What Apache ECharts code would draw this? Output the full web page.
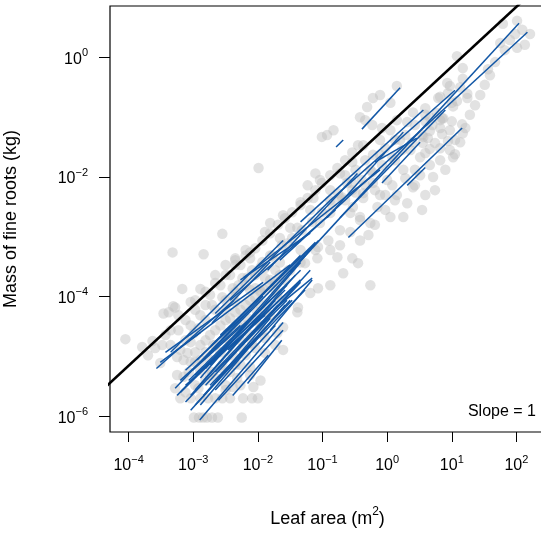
<!DOCTYPE html>
<html><head><meta charset="utf-8">
<script src="https://cdn.jsdelivr.net/npm/echarts@6/dist/echarts.min.js"></script>
<style>html,body{margin:0;padding:0;background:#fff}#c{width:541px;height:534px}</style>
</head><body><div id="c"></div>
<script>
const FONT = '"Liberation Sans", Arial, Helvetica, sans-serif';
// axis extents in log10 units
const xLogRange = [-4.288, 2.442];
const yLogRange = [-6.262, 0.858];
const xTickExponents = [-4, -3, -2, -1, 0, 1, 2];
const yTickExponents = [-6, -4, -2, 0];

// grey points: [log10 leaf area (m2), log10 mass of fine roots (kg)]
const plantPoints = [
[-4.05,-4.71],[-3.79,-4.84],[-3.63,-4.74],[-3.46,-4.28],[-3.38,-4.26],[-3.31,-4.16],[-3.32,-3.26],[-3.17,-3.87],
[-2.84,-3.29],[-2.55,-2.95],[-3.23,-4.56],[-3.04,-4.09],[-2.89,-3.87],[-3.51,-5.11],[-3.48,-4.81],[-3.35,-4.81],
[-3.25,-5.01],[-3.20,-4.89],[-3.09,-4.94],[-3.04,-4.48],[-2.99,-4.61],[-2.92,-4.53],[-3.28,-4.18],[-3.23,-4.31],
[-3.25,-5.31],[-3.15,-5.34],[-3.04,-5.09],[-2.89,-5.23],[-3.28,-5.53],[-3.20,-5.70],[-3.04,-5.70],[-2.89,-5.70],
[-2.77,-5.70],[-2.66,-5.70],[-2.55,-5.70],[-2.43,-5.70],[-2.23,-5.70],[-2.09,-5.70],[-2.00,-5.70],[-2.99,-6.02],
[-2.91,-6.02],[-2.85,-6.02],[-2.79,-6.02],[-2.71,-6.02],[-2.62,-6.02],[-2.25,-6.02],[-1.96,-5.40],[-2.12,-5.18],
[-1.89,-4.94],[-1.73,-4.81],[-1.61,-4.89],[-1.70,-4.61],[-1.39,-4.26],[-1.61,-4.51],[-2.27,-5.48],[-2.39,-5.51],
[-2.07,-5.51],[-3.12,-5.60],[-2.97,-5.48],[-2.81,-5.40],[-2.66,-5.36],[-2.50,-5.48],[-2.74,-5.06],[-2.58,-4.93],
[-2.43,-4.81],[-2.27,-4.73],[-2.12,-4.64],[-1.96,-4.48],[-1.81,-4.31],[-2.35,-5.14],[-2.19,-4.98],[-2.04,-4.86],
[-1.89,-4.69],[-2.89,-4.81],[-2.74,-4.64],[-2.58,-4.48],[-2.43,-4.36],[-2.27,-4.22],[-2.12,-4.06],[-1.96,-3.92],
[-1.81,-3.81],[-2.81,-4.39],[-2.66,-4.22],[-2.50,-4.06],[-2.35,-3.92],[-2.19,-3.81],[-2.04,-3.64],[-1.89,-3.52],
[-2.74,-3.97],[-2.58,-3.81],[-2.43,-3.64],[-2.27,-3.47],[-2.12,-3.36],[-2.66,-3.64],[-2.50,-3.47],[-2.35,-3.36],
[-2.19,-3.22],[-3.12,-4.73],[-2.97,-4.93],[-2.81,-4.14],[-2.97,-4.22],[-3.12,-4.39],[-3.35,-4.56],[-1.96,-4.14],
[-1.66,-4.06],[-1.73,-3.89],[-1.58,-3.72],[-1.50,-3.56],[-1.66,-3.43],[-1.81,-3.31],[-1.99,-1.85],[-2.12,-3.26],
[-2.19,-3.31],[-2.35,-3.39],[-1.89,-2.92],[-1.81,-2.77],[-1.66,-3.02],[-1.50,-2.85],[-1.34,-2.42],[-1.23,-2.14],
[-1.11,-1.94],[-1.19,-2.55],[-1.08,-3.36],[-0.88,-3.22],[-0.77,-3.34],[-0.54,-3.36],[-0.45,-3.44],[-0.68,-3.61],
[-0.88,-3.81],[-1.07,-3.86],[-1.19,-3.94],[-1.38,-4.18],[-0.26,-3.81],[-0.73,-2.89],[-0.57,-2.60],[-0.42,-2.72],
[-0.26,-2.77],[-0.29,-2.97],[-0.22,-2.10],[-0.37,-2.27],[-0.73,-2.35],[-0.88,-2.60],[-1.04,-2.77],[-1.34,-3.22],
[-1.55,-3.11],[-1.76,-3.34],[-1.96,-3.51],[-2.16,-3.68],[-2.30,-3.81],[-2.38,-4.01],[-2.12,-3.89],[-1.81,-3.72],
[-1.53,-3.56],[-1.27,-3.44],[-1.07,-3.17],[-1.39,-2.85],[-1.61,-2.64],[-1.14,-2.35],[-0.88,-2.22],[-0.62,-2.10],
[0.15,-0.48],[-0.11,-0.63],[-0.22,-0.68],[-0.31,-0.83],[-0.42,-1.00],[-0.34,-1.05],[-0.23,-1.13],[-0.08,-1.18],
[0.05,-0.76],[-0.93,-1.30],[-0.83,-1.22],[-1.01,-1.33],[0.82,-0.66],[1.13,-0.50],[0.93,-0.43],[1.24,-0.68],
[1.00,-0.76],[0.82,-1.05],[1.13,-1.42],[1.02,-1.67],[0.71,-2.00],[0.74,-2.22],[0.40,-2.17],[0.25,-1.88],
[0.51,-1.67],[0.56,-1.33],[0.31,-1.08],[0.15,-1.05],[0.40,-0.92],[0.66,-1.00],[-0.03,-1.52],[-0.22,-1.63],
[-0.37,-1.47],[-0.54,-1.75],[-0.26,-1.88],[0.00,-2.05],[0.15,-2.30],[0.31,-2.44],[0.05,-2.67],[0.25,-2.67],
[-0.15,-2.50],[-0.37,-2.35],[-0.54,-2.10],[-0.76,-2.27],[-0.88,-2.39],[-0.53,-2.50],[-1.04,-2.05],[-0.73,-1.94],
[-0.42,-2.67],[0.54,-2.55],[0.12,-1.72],[0.36,-1.55],[0.20,-1.38],[0.05,-1.22],[-0.11,-1.38],[0.43,-1.88],
[0.59,-2.30],[0.90,-1.88],[0.97,-1.22],
[1.79,0.56],[2.01,0.61],[2.21,0.39],[1.98,0.39],[1.75,0.24],[2.01,0.16],[1.08,0.02],[1.17,-0.18],
[1.56,-0.20],[1.17,-0.36],[0.97,-0.48],[0.94,-0.60],[1.24,-0.61],[0.79,-0.68],[1.08,-0.73],[1.02,-0.82],
[0.59,-0.85],[0.77,-0.93],[0.87,-1.02],[1.00,-1.07],[0.59,-1.07],[0.82,-1.18],[0.66,-1.23],[1.16,-1.12],
[1.17,-1.27],[0.85,-1.28],[0.63,-1.35],[0.55,-1.43],[0.74,-1.43],[0.94,-1.40],[0.82,-1.52],[0.66,-1.53],
[1.05,-1.62],[0.59,-1.60],
[-2.89,-5.06],[-2.71,-5.26],[-2.55,-5.14],[-2.39,-4.98],[-2.24,-4.86],[-2.09,-4.78],[-1.93,-4.56],[-3.04,-4.76],
[-3.15,-5.06],[-2.47,-4.61],[-2.32,-4.48],[-2.16,-4.36],[-2.01,-4.26],[-1.85,-4.11],[-1.70,-3.97],[-2.50,-4.22],
[-2.35,-4.09],[-2.04,-3.86],[-1.89,-3.69],[-1.73,-3.56],[-2.69,-4.81],
[-2.97,-4.06],[-2.81,-3.92],[-2.66,-3.77],[-2.50,-3.64],[-2.35,-3.47],[-2.04,-3.19],[-1.93,-3.06],[-1.81,-2.94],
[-1.69,-2.80],[-1.58,-2.69],[-1.47,-2.59],[-1.34,-2.47],[-1.23,-2.35],[-1.11,-2.22],[-1.01,-2.10],[-0.88,-1.97],
[-0.77,-1.85],[-0.65,-1.72],[-0.54,-1.59],[-0.45,-1.47],
[-2.89,-4.31],[-2.71,-4.14],[-2.55,-4.01],[-2.39,-3.86],[-2.24,-3.69],[-2.09,-3.56],[-1.93,-3.42],[-1.78,-3.31],
[-1.63,-3.14],[-1.47,-3.02],[-1.32,-2.89],[-1.16,-2.75],[-1.01,-2.59],[-0.85,-2.47],[-0.70,-2.34],[-0.54,-2.22],
[-0.39,-2.05],[-0.23,-1.92],[-0.08,-1.80],[0.08,-1.67],[0.23,-1.55],[0.39,-1.42],[0.54,-1.30],[0.70,-1.13],
[0.85,-1.02],
[-1.96,-3.89],[-1.66,-3.64],[-1.34,-3.43],[-1.11,-3.22],[-0.91,-3.06],[-0.73,-3.14],[-0.57,-2.92],[-0.42,-3.06],
[-0.19,-2.80],[-0.03,-2.55],[0.12,-2.39],[-0.11,-2.30],[0.08,-2.14],[0.28,-2.02],[0.43,-2.14],[0.51,-1.97],
[0.66,-1.80],[0.82,-1.72],[0.97,-1.55],[1.05,-1.38],[1.21,-1.18],[1.28,-0.96],[1.36,-0.80],[1.44,-0.63],
[1.51,-0.46],[1.59,-0.30],[1.67,-0.08],[1.82,0.12],[1.90,0.29],[2.09,0.46],[2.13,0.21],
[-2.81,-4.73],[-2.66,-4.56],[-2.50,-4.39],[-2.35,-4.26],[-2.19,-4.14],[-2.04,-4.02],[-1.89,-3.89],[-1.73,-3.76],
[-2.97,-5.09],[-2.81,-4.93],[-2.66,-4.81],[-2.50,-4.69],[-2.35,-4.59],[-2.19,-4.48],[-2.04,-4.39],[-1.89,-4.26],
[-3.07,-5.26],[-2.92,-5.53],[-2.74,-5.31],[-2.58,-5.19],[-2.43,-5.26],[-2.27,-5.14],[-2.12,-5.31],[-2.50,-5.56],
[-2.32,-5.36],[-3.43,-4.64],[-3.59,-4.86],[-3.70,-4.98],
[-0.65,-2.39],[-0.49,-2.26],[-0.34,-2.14],[-0.19,-2.22],[-0.03,-2.30],[-0.65,-1.97],[-0.49,-1.88],[-0.34,-1.72],
[-0.11,-1.63],[0.12,-1.38],[0.28,-1.30],[0.43,-1.13],[0.59,-0.96]
];

// blue fitted segments: [log10 x start, log10 y start, log10 x end, log10 y end]
const speciesFits = [
[-3.57,-5.20,-2.37,-4.06],[-3.43,-4.93,-1.92,-3.76],[-3.31,-4.94,-1.50,-3.47],[-3.28,-5.53,-1.92,-3.99],
[-3.25,-5.65,-1.81,-4.06],[-3.20,-5.60,-1.58,-3.89],[-3.12,-5.76,-1.69,-4.14],[-3.04,-5.90,-1.50,-4.06],
[-2.90,-6.06,-1.61,-4.43],[-3.07,-5.40,-1.34,-3.56],[-3.01,-5.23,-1.55,-3.81],[-2.97,-5.56,-1.42,-3.64],
[-2.94,-5.06,-1.34,-3.31],[-2.89,-5.36,-1.34,-3.43],[-2.84,-5.65,-1.81,-4.36],[-2.81,-5.20,-1.19,-3.22],
[-2.78,-4.98,-1.27,-3.31],[-2.74,-5.48,-1.47,-4.06],[-2.71,-4.81,-1.11,-3.09],[-2.66,-5.26,-1.55,-4.06],
[-2.61,-5.73,-1.61,-4.56],[-2.58,-4.64,-1.06,-3.06],[-2.50,-5.10,-1.19,-3.56],[-2.46,-4.89,-1.34,-3.72],
[-2.16,-5.45,-1.63,-4.73],[-2.39,-5.65,-1.84,-4.98],[-3.12,-5.23,-2.12,-4.22],[-2.97,-5.81,-2.04,-4.73],
[-3.20,-5.40,-2.27,-4.48],[-3.51,-5.10,-2.89,-4.60],[-3.04,-5.65,-1.73,-4.06],[-2.89,-5.81,-1.58,-4.14],
[-2.81,-5.48,-1.34,-3.76],[-2.74,-5.14,-1.42,-3.81],[-2.66,-5.56,-1.73,-4.48],[-2.55,-5.31,-1.27,-3.89],
[-3.12,-5.48,-1.89,-4.31],[-2.97,-5.31,-1.96,-4.31],
[-3.35,-4.93,-1.61,-3.06],[-2.71,-4.44,-1.81,-3.42],[-2.66,-4.28,-0.88,-2.39],[-2.43,-4.06,-0.80,-2.55],
[-2.22,-3.68,-0.11,-1.88],[-2.27,-3.72,-1.19,-2.94],[-1.85,-3.56,-0.46,-1.94],[-1.76,-4.22,-1.16,-3.69],
[-1.81,-4.56,-1.16,-3.72],
[-1.50,-3.59,2.04,0.57],[-1.66,-3.39,2.17,0.42],[-0.88,-2.39,1.05,-0.55],[-0.60,-3.01,1.16,-1.18],
[-1.34,-2.75,0.56,-0.88],[-0.93,-2.68,0.25,-1.25],[-0.08,-2.10,0.51,-1.42],[-0.73,-2.68,0.90,-0.88],
[-0.19,-1.75,0.46,-1.35],[0.31,-2.14,0.59,-1.84],[-0.39,-1.20,0.20,-0.51],[-0.79,-1.50,-0.68,-1.38]
];

// slope = 1 reference line end points (log10 units)
const slopeOneLine = [[-5, -6.155], [3, 1.845]];

const p10 = v => Math.pow(10, v);
const sup = e => (e < 0 ? '\u2212' + (-e) : String(e));
const powLabel = v => '{b|10}{s|' + sup(Math.round(Math.log10(v))) + '}';
const labelRich = {
  b: { fontFamily: FONT, fontSize: 16, color: '#000', lineHeight: 20, verticalAlign: 'bottom' },
  s: { fontFamily: FONT, fontSize: 11, color: '#000', lineHeight: 12, verticalAlign: 'top' }
};

const series = [{
  type: 'scatter', silent: true, symbolSize: 10.5,
  itemStyle: { color: 'rgba(190,190,190,0.55)' },
  data: plantPoints.map(p => [p10(p[0]), p10(p[1])]), z: 1
}];
speciesFits.forEach(s => series.push({
  type: 'line', silent: true, showSymbol: false, symbol: 'none', z: 2,
  lineStyle: { color: '#1257a6', width: 1.5 },
  data: [[p10(s[0]), p10(s[1])], [p10(s[2]), p10(s[3])]]
}));
series.push({
  type: 'line', silent: true, showSymbol: false, symbol: 'none', z: 3, clip: true,
  lineStyle: { color: '#000', width: 2.6 },
  data: slopeOneLine.map(p => [p10(p[0]), p10(p[1])])
});

const chart = echarts.init(document.getElementById('c'), null, { renderer: 'canvas' });
chart.setOption({
  animation: false,
  backgroundColor: '#fff',
  grid: { left: 110, top: 6, right: -4, bottom: 102, show: true, borderColor: '#000', borderWidth: 1.2,
          backgroundColor: 'transparent', containLabel: false, outerBoundsMode: 'none' },
  xAxis: {
    type: 'log', logBase: 10, min: p10(xLogRange[0]), max: p10(xLogRange[1]),
    axisLine: { show: false }, splitLine: { show: false },
    axisTick: { show: true, length: 10, customValues: xTickExponents.map(p10), lineStyle: { color: '#000', width: 1 } },
    axisLabel: { customValues: xTickExponents.map(p10), formatter: powLabel, margin: 22, rich: labelRich },
    name: '{t|Leaf area (m}{s|2}{t|)}', nameLocation: 'middle', nameGap: 74,
    nameTextStyle: { rich: {
      t: { fontFamily: FONT, fontSize: 18, color: '#000', lineHeight: 22, verticalAlign: 'bottom' },
      s: { fontFamily: FONT, fontSize: 12, color: '#000', lineHeight: 12, verticalAlign: 'top' } } }
  },
  yAxis: {
    type: 'log', logBase: 10, min: p10(yLogRange[0]), max: p10(yLogRange[1]),
    axisLine: { show: false }, splitLine: { show: false },
    axisTick: { show: true, length: 11, customValues: yTickExponents.map(p10), lineStyle: { color: '#000', width: 1 } },
    axisLabel: { customValues: yTickExponents.map(p10), formatter: powLabel, margin: 22, rich: labelRich },
    name: 'Mass of fine roots (kg)', nameLocation: 'middle', nameGap: 90,
    nameTextStyle: { fontFamily: FONT, fontSize: 18, color: '#000' }
  },
  graphic: [{
    type: 'text', x: 536, y: 412, silent: true,
    style: { text: 'Slope = 1', fontFamily: FONT, fontSize: 16, fill: '#000', textAlign: 'right', textVerticalAlign: 'middle' }
  }],
  series: series
});
</script></body></html>
